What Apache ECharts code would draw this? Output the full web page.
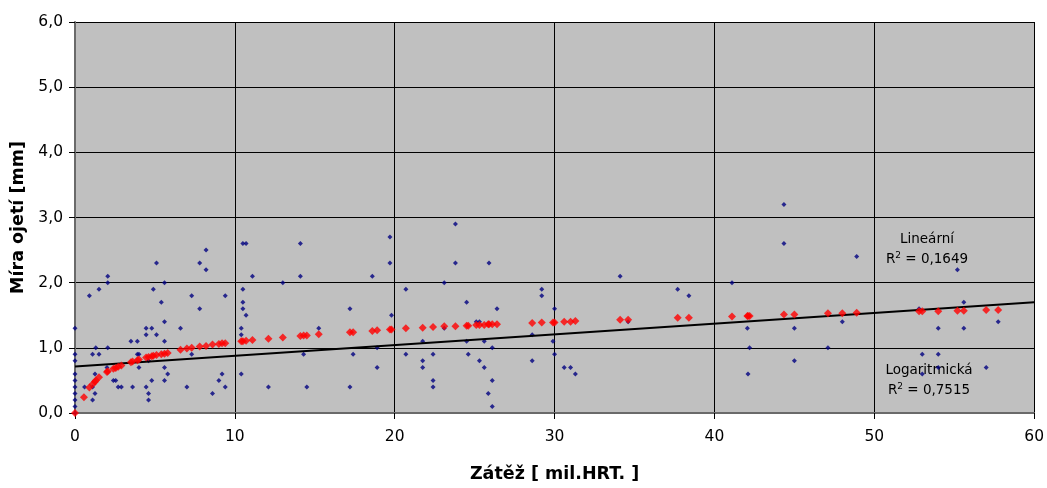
<!DOCTYPE html>
<html><head><meta charset="utf-8">
<script src="https://cdn.jsdelivr.net/npm/echarts@6/dist/echarts.min.js"></script>
<style>html,body{margin:0;padding:0;background:#fff}#c{width:1047px;height:488px}</style>
</head><body><div id="c"></div>
<script>
const xTicks = [0,10,20,30,40,50,60];
const yTicks = ['0,0','1,0','2,0','3,0','4,0','5,0','6,0'];
const measured = [
[0,1.3],[0,0.9],[0,0.8],[0,0.6],[0,0.5],[0,0.4],[0,0.3],[0,0.2],[0,0.1],[0,0.0],
[0.6,0.4],[0.9,1.8],[1.1,0.9],[1.1,0.4],[1.1,0.2],[1.25,0.3],[1.25,0.6],[1.3,1.0],[1.5,1.9],[1.5,0.9],
[2.05,2.1],[2.05,2.0],[2.05,1.0],[2.0,0.7],[2.4,0.5],[2.55,0.5],[2.7,0.4],[2.9,0.4],[3.5,1.1],[3.9,1.1],
[3.6,0.4],[3.9,0.9],[4.0,0.9],[4.0,0.7],[4.45,1.3],[4.45,1.2],[4.8,1.3],[4.9,1.9],[5.1,2.3],[5.1,1.2],
[4.6,0.8],[4.45,0.4],[4.6,0.3],[4.6,0.2],[4.8,0.5],[5.4,1.7],[5.6,2.0],[5.6,1.4],[5.6,1.1],[5.6,0.7],
[5.6,0.5],[5.8,0.6],[6.6,1.3],[7.0,0.4],[7.3,1.8],[7.3,0.9],[7.8,2.3],[7.8,1.6],[8.2,2.5],[8.2,2.2],
[8.6,0.3],[9.0,0.5],[9.2,0.6],[9.4,1.8],[9.4,0.4],[10.4,1.3],[10.4,1.2],[10.4,0.6],[10.5,2.6],[10.7,2.6],
[10.5,1.9],[10.5,1.7],[10.5,1.6],[10.7,1.5],[11.1,2.1],[12.1,0.4],[13.0,2.0],[14.1,2.6],[14.1,2.1],[14.3,0.9],
[14.5,0.4],[15.25,1.3],[17.2,1.6],[17.4,0.9],[17.2,0.4],[18.6,2.1],[19.7,2.7],[19.7,2.3],[19.8,1.5],[18.9,1.0],
[18.9,0.7],[20.7,1.9],[20.7,0.9],[21.75,1.1],[21.75,0.8],[21.75,0.7],[22.4,0.9],[22.4,0.5],[22.4,0.4],[23.1,2.0],
[23.1,1.3],[23.8,2.9],[23.8,2.3],[24.5,1.7],[24.5,1.1],[24.6,0.9],[25.1,1.4],[25.3,1.4],[25.3,0.8],[25.6,1.1],
[25.6,0.7],[25.9,2.3],[26.1,1.0],[26.1,0.5],[25.85,0.3],[26.1,0.1],[26.4,1.6],[28.6,1.2],[28.6,0.8],[29.2,1.9],
[29.2,1.8],[30.0,1.6],[29.9,1.1],[30.0,0.9],[30.6,0.7],[31.0,0.7],[31.3,0.6],[34.1,2.1],[34.6,1.4],[37.7,1.9],
[38.4,1.8],[41.1,2.0],[42.06,1.3],[42.2,1.0],[42.1,0.6],[44.35,3.2],[44.35,2.6],[45.0,1.3],[45.0,0.8],[48.9,2.4],
[47.1,1.0],[48.0,1.4],[52.8,1.6],[53.0,0.9],[53.0,0.6],[54.0,1.3],[54.0,0.9],[54.0,0.7],[55.2,2.2],[55.6,1.7],
[55.6,1.3],[57.0,0.7],[57.75,1.4]
];
const logFit = [
[0,0],[0.56,0.24],[0.9,0.39],[1.1,0.44],[1.25,0.48],[1.3,0.5],[1.5,0.55],[2.0,0.63],[2.05,0.64],[2.4,0.68],
[2.55,0.69],[2.7,0.71],[2.9,0.73],[3.5,0.78],[3.6,0.79],[3.9,0.81],[4.0,0.82],[4.45,0.85],[4.6,0.86],[4.8,0.87],
[4.9,0.88],[5.1,0.89],[5.4,0.9],[5.6,0.91],[5.8,0.92],[6.6,0.97],[7.0,0.99],[7.3,1.0],[7.8,1.02],[8.2,1.03],
[8.6,1.05],[9.0,1.06],[9.2,1.07],[9.4,1.07],[10.4,1.1],[10.5,1.1],[10.7,1.11],[11.1,1.12],[12.1,1.14],[13.0,1.16],
[14.1,1.18],[14.3,1.19],[14.5,1.19],[15.25,1.21],[17.2,1.24],[17.4,1.24],[18.6,1.26],[18.9,1.27],[19.7,1.28],[19.8,1.28],
[20.7,1.3],[21.75,1.31],[22.4,1.32],[23.1,1.33],[23.8,1.33],[24.5,1.34],[24.6,1.34],[25.1,1.35],[25.3,1.35],[25.6,1.35],
[25.85,1.36],[25.9,1.36],[26.1,1.36],[26.4,1.36],[28.6,1.38],[29.2,1.39],[29.9,1.39],[30.0,1.39],[30.6,1.4],[31.0,1.4],
[31.3,1.41],[34.1,1.43],[34.6,1.43],[37.7,1.46],[38.4,1.46],[41.1,1.48],[42.06,1.49],[42.1,1.49],[42.2,1.49],[44.35,1.51],
[45.0,1.51],[47.1,1.53],[48.0,1.53],[48.9,1.54],[52.8,1.56],[53.0,1.56],[54.0,1.56],[55.2,1.57],[55.6,1.57],[57.0,1.58],
[57.75,1.58]
];
const linearTrend = [[0,0.715],[60,1.70]];
const annoNames = ['Lineární','Logaritmická'];
const annoR2 = ['0,1649','0,7515'];

const FONT = '"DejaVu Sans", "Liberation Sans", Arial, sans-serif';
const chart = echarts.init(document.getElementById('c'));
const annoRich = {
  a: {fontFamily: FONT, fontSize: 13.5, color: '#000'},
  sup: {fontFamily: FONT, fontSize: 9, color: '#000', verticalAlign: 'top', padding: [0,0,7,0]}
};
function anno(text, x, y) {
  return {type: 'text', x: x, y: y,
    style: {text: text, rich: annoRich, align: 'center', verticalAlign: 'middle'}};
}
chart.setOption({
  animation: false,
  backgroundColor: '#fff',
  grid: {left: 75, right: 12, top: 22, bottom: 74, show: true, backgroundColor: '#C0C0C0', borderWidth: 0},
  xAxis: {
    type: 'value', min: 0, max: 60, interval: 10,
    name: 'Zátěž [ mil.HRT. ]', nameLocation: 'middle', nameGap: 52,
    nameTextStyle: {fontFamily: FONT, fontSize: 17.5, fontWeight: 'bold', color: '#000'},
    axisLine: {show: true, onZero: false, lineStyle: {color: '#6a6a6a', width: 2}},
    axisTick: {show: true, inside: false, length: 6, lineStyle: {color: '#000'}},
    axisLabel: {fontFamily: FONT, fontSize: 15.5, color: '#000', margin: 16,
      formatter: v => String(xTicks[xTicks.indexOf(v)])},
    splitLine: {show: true, lineStyle: {color: '#000', width: 1}}
  },
  yAxis: {
    type: 'value', min: 0, max: 6, interval: 1,
    name: 'Míra ojetí [mm]', nameLocation: 'middle', nameGap: 39,
    nameTextStyle: {fontFamily: FONT, fontSize: 17.5, fontWeight: 'bold', color: '#000'},
    axisLine: {show: true, onZero: false, lineStyle: {color: '#6a6a6a', width: 2}},
    axisTick: {show: true, inside: false, length: 6, lineStyle: {color: '#000'}},
    axisLabel: {fontFamily: FONT, fontSize: 15.5, color: '#000', margin: 12,
      formatter: v => yTicks[Math.round(v)]},
    splitLine: {show: true, lineStyle: {color: '#000', width: 1}}
  },
  series: [
    {type: 'scatter', data: measured, symbol: 'diamond', symbolSize: 5,
     itemStyle: {color: '#000080'}, z: 2},
    {type: 'line', data: linearTrend, symbol: 'none', lineStyle: {color: '#000', width: 2}, z: 3},
    {type: 'scatter', data: logFit, symbol: 'diamond', symbolSize: 8,
     itemStyle: {color: '#FF0000'}, z: 4}
  ],
  graphic: [
    anno('{a|' + annoNames[0] + '}', 927, 239),
    anno('{a|R}{sup|2}{a| = ' + annoR2[0] + '}', 927, 259),
    anno('{a|' + annoNames[1] + '}', 929, 370),
    anno('{a|R}{sup|2}{a| = ' + annoR2[1] + '}', 929, 390)
  ]
});
</script></body></html>
